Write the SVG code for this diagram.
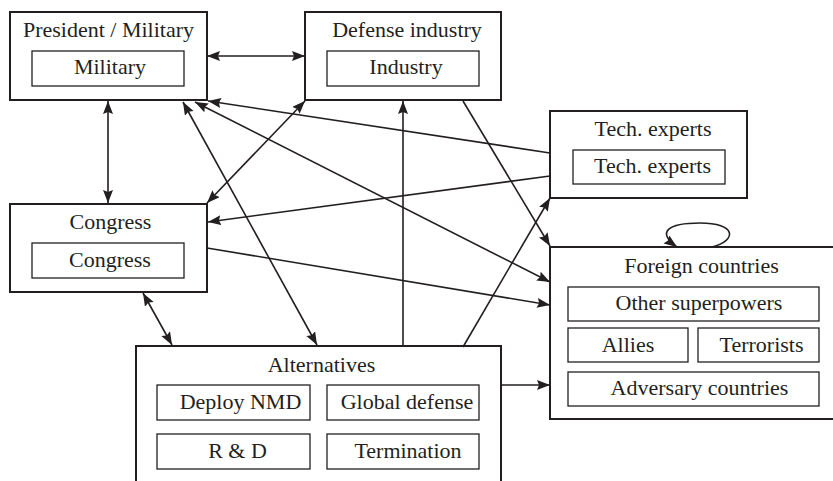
<svg xmlns="http://www.w3.org/2000/svg" width="833" height="481" viewBox="0 0 833 481">
  <style>
    .outer { fill: #ffffff; stroke: #231f20; stroke-width: 2; }
    .inner { fill: #ffffff; stroke: #231f20; stroke-width: 1.3; }
    .lbl { font-family: "Liberation Serif", "Times New Roman", serif; font-size: 22px; fill: #231f20; text-anchor: middle; }
    .edge { fill: none; stroke: #231f20; stroke-width: 1.6; }
  </style>
  <defs>
    <marker id="arrow" markerUnits="userSpaceOnUse" markerWidth="14" markerHeight="11" refX="13" refY="5" orient="auto-start-reverse">
      <path d="M0,0 L13,5 L0,10 L2,5 z" fill="#231f20"/>
    </marker>
  </defs>
  <rect width="833" height="481" fill="#ffffff"/>

  <g id="president">
    <rect class="outer" x="10" y="12" width="197" height="88"/>
    <text class="lbl" x="108.5" y="37">President / Military</text>
    <rect class="inner" x="32" y="51" width="152" height="35"/>
    <text class="lbl" x="110" y="74">Military</text>
  </g>

  <g id="defense">
    <rect class="outer" x="305" y="12" width="196" height="88"/>
    <text class="lbl" x="407" y="37">Defense industry</text>
    <rect class="inner" x="327" y="51" width="152" height="35"/>
    <text class="lbl" x="406" y="74">Industry</text>
  </g>

  <g id="tech">
    <rect class="outer" x="550" y="111" width="197" height="87"/>
    <text class="lbl" x="653" y="136">Tech. experts</text>
    <rect class="inner" x="573" y="150" width="152" height="34"/>
    <text class="lbl" x="652.5" y="173">Tech. experts</text>
  </g>

  <g id="congress">
    <rect class="outer" x="10" y="204" width="197" height="88"/>
    <text class="lbl" x="110.5" y="229">Congress</text>
    <rect class="inner" x="32" y="243" width="152" height="35"/>
    <text class="lbl" x="110" y="267">Congress</text>
  </g>

  <g id="alternatives">
    <rect class="outer" x="136" y="346" width="365" height="150"/>
    <text class="lbl" x="321.5" y="372">Alternatives</text>
    <rect class="inner" x="157" y="385" width="153" height="35"/>
    <text class="lbl" x="240.5" y="409">Deploy NMD</text>
    <rect class="inner" x="327" y="385" width="152" height="35"/>
    <text class="lbl" x="407" y="409">Global defense</text>
    <rect class="inner" x="157" y="434" width="153" height="35"/>
    <text class="lbl" x="237.5" y="458">R &amp; D</text>
    <rect class="inner" x="327" y="434" width="152" height="35"/>
    <text class="lbl" x="408" y="458">Termination</text>
  </g>

  <g id="foreign">
    <rect class="outer" x="550" y="247" width="300" height="172"/>
    <text class="lbl" x="701.5" y="273">Foreign countries</text>
    <rect class="inner" x="568" y="287" width="251" height="34"/>
    <text class="lbl" x="699" y="310">Other superpowers</text>
    <rect class="inner" x="568" y="328" width="120" height="34"/>
    <text class="lbl" x="628" y="352">Allies</text>
    <rect class="inner" x="698" y="328" width="121" height="34"/>
    <text class="lbl" x="761.5" y="352">Terrorists</text>
    <rect class="inner" x="568" y="372" width="251" height="34"/>
    <text class="lbl" x="699.5" y="395">Adversary countries</text>
  </g>

  <!-- connectors, drawn last so arrowheads sit on top of the box borders -->
  <g id="connectors">
    <line class="edge" x1="207" y1="56" x2="305" y2="56" marker-start="url(#arrow)" marker-end="url(#arrow)"/>
    <line class="edge" x1="108" y1="101" x2="108" y2="203" marker-start="url(#arrow)" marker-end="url(#arrow)"/>
    <line class="edge" x1="143" y1="293" x2="172" y2="345" marker-start="url(#arrow)" marker-end="url(#arrow)"/>
    <line class="edge" x1="183" y1="102" x2="317" y2="345" marker-start="url(#arrow)" marker-end="url(#arrow)"/>
    <line class="edge" x1="195" y1="102" x2="550" y2="282" marker-start="url(#arrow)" marker-end="url(#arrow)"/>
    <line class="edge" x1="550" y1="153" x2="208" y2="101" marker-end="url(#arrow)"/>
    <line class="edge" x1="207" y1="203" x2="305" y2="101" marker-start="url(#arrow)" marker-end="url(#arrow)"/>
    <line class="edge" x1="550" y1="176" x2="208" y2="222" marker-end="url(#arrow)"/>
    <line class="edge" x1="463" y1="101" x2="550" y2="246" marker-end="url(#arrow)"/>
    <line class="edge" x1="463" y1="347" x2="550" y2="198" marker-end="url(#arrow)"/>
    <line class="edge" x1="403" y1="347" x2="403" y2="101" marker-end="url(#arrow)"/>
    <line class="edge" x1="207" y1="248" x2="550" y2="305" marker-end="url(#arrow)"/>
    <line class="edge" x1="500" y1="385" x2="550" y2="385" marker-end="url(#arrow)"/>
    <!-- self-loop on Foreign countries -->
    <path class="edge" d="M712,247 C738,240 736,223 700,223 C668,223 656,232 677,247" marker-end="url(#arrow)"/>
  </g>
</svg>
